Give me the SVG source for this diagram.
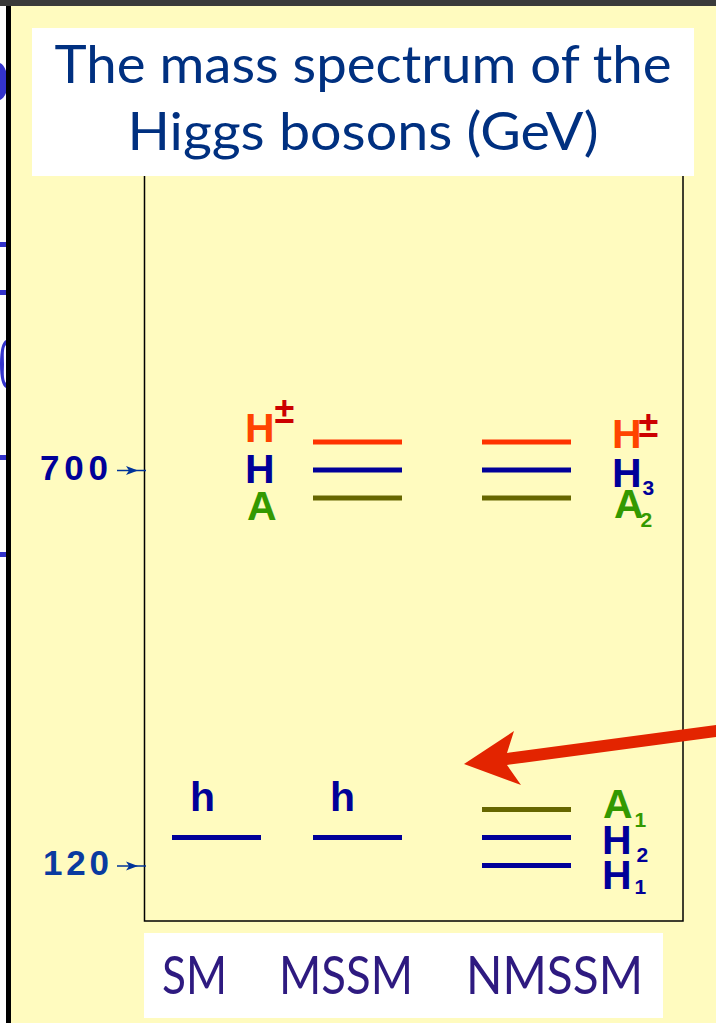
<svg xmlns="http://www.w3.org/2000/svg" width="716" height="1023" viewBox="0 0 716 1023">
  <style>
    .title { font-family: Lato, "Open Sans", sans-serif; font-size: 52px; fill: #003080; }
    .model { font-family: Lato, "Open Sans", sans-serif; font-size: 53px; fill: #2e1a80; }
    .lab { font-family: "Liberation Sans", Arial, sans-serif; font-weight: bold; font-size: 41px; }
    .sub { font-size: 21px; }
    .pm { font-size: 36px; fill: #cc0000; }
    .axis { font-family: "Liberation Sans", Arial, sans-serif; font-weight: bold; font-size: 35px; }
    .lvl { stroke-width: 5; fill: none; }
    .red { stroke: #ff3300; }
    .blue { stroke: #000099; }
    .olive { stroke: #666600; }
    .cH { fill: #ff4400; }
    .cB { fill: #000099; }
    .cA { fill: #339900; }
  </style>

  <!-- background -->
  <rect x="0" y="0" width="716" height="1023" fill="#fffbbf"/>
  <rect x="0" y="0" width="6" height="1023" fill="#ffffff"/>
  <g fill="#3333cc">
    <path d="M0,63 C5,65 8,75 8,82 C8,90 5,98 0,100 Z"/>
    <rect x="0" y="242" width="6" height="5"/>
    <rect x="0" y="290" width="6" height="5"/>
    <path d="M6,340 C2,342 0,350 0,364 C0,378 2,386 6,388 L6,383 C3,380 4,370 4,364 C4,356 3,348 6,345 Z"/>
    <rect x="0" y="455" width="6" height="5"/>
    <rect x="0" y="552" width="6" height="5"/>
  </g>
  <rect x="6" y="0" width="5" height="1023" fill="#000000"/>
  <rect x="0" y="0" width="716" height="6" fill="#3a3a3a"/>

  <!-- frame -->
  <rect id="frame" x="144.5" y="150" width="538.5" height="771" fill="none" stroke="#000000" stroke-width="1.5"/>

  <!-- title -->
  <g id="title">
    <rect x="32" y="28" width="662" height="148" fill="#ffffff"/>
    <text class="title" x="363" y="83" text-anchor="middle" textLength="617" lengthAdjust="spacingAndGlyphs">The mass spectrum of the</text>
    <text class="title" x="363" y="150" text-anchor="middle" textLength="471" lengthAdjust="spacingAndGlyphs">Higgs bosons (GeV)</text>
  </g>

  <!-- axis ticks -->
  <g id="axis700">
    <text class="axis cB" x="40" y="480" textLength="68" lengthAdjust="spacing">700</text>
    <line x1="117" y1="470.5" x2="146" y2="470.5" stroke="#003399" stroke-width="1.5"/>
    <polygon points="138,470.5 126,466 129,470.5 126,475" fill="#003399"/>
  </g>
  <g id="axis120">
    <text class="axis" fill="#0a3aa0" x="43" y="875" textLength="66" lengthAdjust="spacing">120</text>
    <line x1="117" y1="866" x2="146" y2="866" stroke="#003399" stroke-width="1.5"/>
    <polygon points="138,866 126,861.5 129,866 126,870.5" fill="#003399"/>
  </g>

  <!-- SM -->
  <g id="SM">
    <text class="lab cB" x="190" y="811">h</text>
    <line class="lvl blue" x1="172" y1="837.5" x2="261" y2="837.5"/>
  </g>

  <!-- MSSM -->
  <g id="MSSM">
    <text class="lab cH" x="245" y="442">H<tspan class="pm" dx="0" dy="-19">±</tspan></text>
    <text class="lab cB" x="245" y="483">H</text>
    <text class="lab cA" x="247" y="520">A</text>
    <line class="lvl red" x1="313" y1="442" x2="402" y2="442"/>
    <line class="lvl blue" x1="313" y1="470" x2="402" y2="470"/>
    <line class="lvl olive" x1="313" y1="498" x2="402" y2="498"/>
    <text class="lab cB" x="330" y="811">h</text>
    <line class="lvl blue" x1="313" y1="837.5" x2="402" y2="837.5"/>
  </g>

  <!-- NMSSM -->
  <g id="NMSSM">
    <line class="lvl red" x1="482" y1="442" x2="571" y2="442"/>
    <line class="lvl blue" x1="482" y1="470" x2="571" y2="470"/>
    <line class="lvl olive" x1="482" y1="498" x2="571" y2="498"/>
    <text class="lab cH" x="612" y="448">H<tspan class="pm" dx="-3" dy="-11">±</tspan></text>
    <text class="lab cB" x="612" y="487">H<tspan class="sub" dx="1" dy="8">3</tspan></text>
    <text class="lab cA" x="614" y="518">A<tspan class="sub" dx="-3" dy="9">2</tspan></text>

    <line class="lvl olive" x1="482" y1="809.5" x2="571" y2="809.5"/>
    <line class="lvl blue" x1="482" y1="837.5" x2="571" y2="837.5"/>
    <line class="lvl blue" x1="482" y1="865.5" x2="571" y2="865.5"/>
    <text class="lab cA" x="603" y="818">A<tspan class="sub" dx="2" dy="9">1</tspan></text>
    <text class="lab cB" x="602" y="854">H<tspan class="sub" dx="5" dy="8">2</tspan></text>
    <text class="lab cB" x="602" y="889">H<tspan class="sub" dx="3" dy="5">1</tspan></text>
  </g>

  <!-- connectors -->
  <g id="connectors">
    <polygon points="464,764 514,731 507,753 716,725 716,737 507,765 521,785" fill="#e32400"/>
  </g>

  <!-- model labels -->
  <g id="models">
    <rect x="144" y="933" width="519" height="85" fill="#ffffff"/>
    <text class="model" x="162" y="994" textLength="65" lengthAdjust="spacingAndGlyphs">SM</text>
    <text class="model" x="279" y="994" textLength="134" lengthAdjust="spacingAndGlyphs">MSSM</text>
    <text class="model" x="466" y="994" textLength="177" lengthAdjust="spacingAndGlyphs">NMSSM</text>
  </g>
</svg>
